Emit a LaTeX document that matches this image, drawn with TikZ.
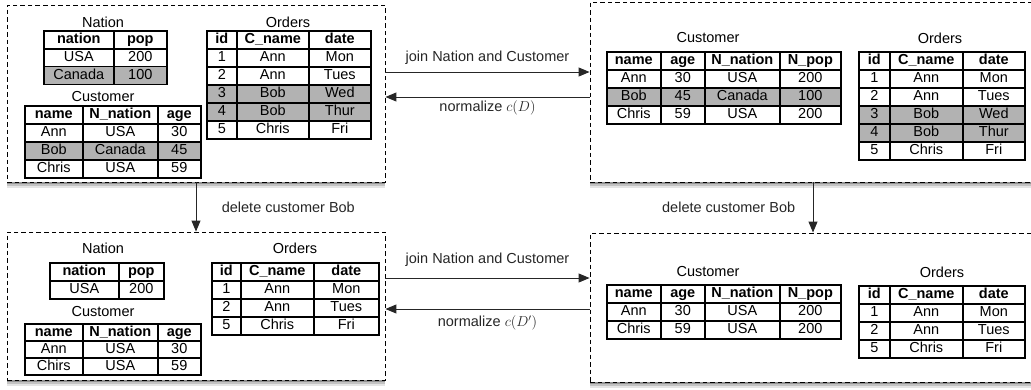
\documentclass[tikz,border=0pt]{standalone}
\usepackage{fontspec}
\setmainfont{Liberation Sans}
\usetikzlibrary{matrix,arrows.meta,positioning}

\definecolor{shade}{gray}{0.70}
\newcommand{\tsize}{\fontsize{14.5}{16}\selectfont}

\tikzset{
  panel/.style={draw, dash pattern=on 4.5pt off 3pt, line width=0.9pt, fill=white, inner sep=0pt,
    preaction={fill=black, opacity=0.10, transform canvas={yshift=-6pt}},
    preaction={fill=black, opacity=0.15, transform canvas={yshift=-4pt}},
    preaction={fill=black, opacity=0.25, transform canvas={yshift=-2pt}}},
  tbl/.style={matrix of nodes, anchor=north west, inner sep=0pt, outer sep=0pt,
    column sep=-1.6pt, row sep=-1.6pt,
    nodes={draw, line width=1.6pt, inner sep=0pt, outer sep=0pt, minimum height=18pt,
      text height=10.5pt, text depth=3pt, font=\tsize},
    row 1/.style={nodes={font=\tsize\bfseries}}},
  title/.style={font=\tsize, inner sep=0pt},
  arr/.style={-{Triangle[length=11pt,width=9pt]}, line width=1pt, black!85},
  lbl/.style={font=\tsize}
}

\begin{document}
\begin{tikzpicture}[x=1pt,y=-1pt]
\useasboundingbox (0,0) rectangle (1031,389);

%% the four states
\node[panel, minimum width=378pt, minimum height=177pt] (p1) at (196,93.5) {};
\node[panel, minimum width=446pt, minimum height=180pt] (p2) at (813,92) {};
\node[panel, minimum width=378pt, minimum height=148pt] (p3) at (196,306) {};
\node[panel, minimum width=446pt, minimum height=149pt] (p4) at (813,307.5) {};

%% top left
\node[title] (nat1t) at (103,22) {Nation};
\matrix[tbl, column 1/.style={nodes={minimum width=70pt}}, column 2/.style={nodes={minimum width=53pt}},
  row 3/.style={nodes={fill=shade}}, row 2/.style={nodes={minimum height=17.5pt}}] (nat1) at (43,30) {
nation & pop \\
USA & 200 \\
Canada & 100 \\
};
\node[title] (cus1t) at (103,97) {Customer};
\matrix[tbl, column 1/.style={nodes={minimum width=58pt}}, column 2/.style={nodes={minimum width=75pt}},
  column 3/.style={nodes={minimum width=43pt}}, row 3/.style={nodes={fill=shade}}] (cus1) at (24,105) {
name & N\_nation & age \\
Ann & USA & 30 \\
Bob & Canada & 45 \\
Chris & USA & 59 \\
};
\node[title] (ord1t) at (288,22) {Orders};
\matrix[tbl, column 1/.style={nodes={minimum width=30pt}}, column 2/.style={nodes={minimum width=72pt}},
  column 3/.style={nodes={minimum width=62pt}}, row 4/.style={nodes={fill=shade}},
  row 5/.style={nodes={fill=shade}}] (ord1) at (206,30) {
id & C\_name & date \\
1 & Ann & Mon \\
2 & Ann & Tues \\
3 & Bob & Wed \\
4 & Bob & Thur \\
5 & Chris & Fri \\
};

%% top right
\node[title] (cus2t) at (708,38) {Customer};
\matrix[tbl, column 1/.style={nodes={minimum width=54pt}}, column 2/.style={nodes={minimum width=44pt}},
  column 3/.style={nodes={minimum width=75pt}}, column 4/.style={nodes={minimum width=61pt}},
  row 3/.style={nodes={fill=shade}}] (cus2) at (606,51) {
name & age & N\_nation & N\_pop \\
Ann & 30 & USA & 200 \\
Bob & 45 & Canada & 100 \\
Chris & 59 & USA & 200 \\
};
\node[title] (ord2t) at (940,38) {Orders};
\matrix[tbl, column 1/.style={nodes={minimum width=31pt}}, column 2/.style={nodes={minimum width=73pt}},
  column 3/.style={nodes={minimum width=62pt}}, row 4/.style={nodes={fill=shade}},
  row 5/.style={nodes={fill=shade}}] (ord2) at (858,51) {
id & C\_name & date \\
1 & Ann & Mon \\
2 & Ann & Tues \\
3 & Bob & Wed \\
4 & Bob & Thur \\
5 & Chris & Fri \\
};

%% bottom left
\node[title] (nat3t) at (103,248) {Nation};
\matrix[tbl, column 1/.style={nodes={minimum width=69pt}}, column 2/.style={nodes={minimum width=45pt}}] (nat3) at (49,262) {
nation & pop \\
USA & 200 \\
};
\node[title] (cus3t) at (103,312) {Customer};
\matrix[tbl, column 1/.style={nodes={minimum width=58pt}}, column 2/.style={nodes={minimum width=75pt}},
  column 3/.style={nodes={minimum width=43pt}}, nodes={minimum height=17pt}] (cus3) at (24,323) {
name & N\_nation & age \\
Ann & USA & 30 \\
Chirs & USA & 59 \\
};
\node[title] (ord3t) at (295,248) {Orders};
\matrix[tbl, column 1/.style={nodes={minimum width=29pt}}, column 2/.style={nodes={minimum width=73pt}},
  column 3/.style={nodes={minimum width=65pt}}] (ord3) at (211,262) {
id & C\_name & date \\
1 & Ann & Mon \\
2 & Ann & Tues \\
5 & Chris & Fri \\
};

%% bottom right
\node[title] (cus4t) at (708,272) {Customer};
\matrix[tbl, column 1/.style={nodes={minimum width=54pt}}, column 2/.style={nodes={minimum width=44pt}},
  column 3/.style={nodes={minimum width=75pt}}, column 4/.style={nodes={minimum width=61pt}}] (cus4) at (606,284) {
name & age & N\_nation & N\_pop \\
Ann & 30 & USA & 200 \\
Chris & 59 & USA & 200 \\
};
\node[title] (ord4t) at (942,272) {Orders};
\matrix[tbl, column 1/.style={nodes={minimum width=31pt}}, column 2/.style={nodes={minimum width=73pt}},
  column 3/.style={nodes={minimum width=62pt}}] (ord4) at (858,285) {
id & C\_name & date \\
1 & Ann & Mon \\
2 & Ann & Tues \\
5 & Chris & Fri \\
};

%% transitions
\draw[arr] (p1.east |- 0,72) -- (p2.west |- 0,72) node[lbl, midway, above=4pt] (j1) {join Nation and Customer};
\draw[arr] (p2.west |- 0,97) -- (p1.east |- 0,97) node[lbl, midway, below=0pt] (n1) {normalize $c(D)$};
\draw[arr] (p3.east |- 0,278) -- (p4.west |- 0,278) node[lbl, midway, above=8pt] (j2) {join Nation and Customer};
\draw[arr] (p4.west |- 0,309) -- (p3.east |- 0,309) node[lbl, midway, below=3pt] (n2) {normalize $c(D')$};
\draw[arr] (p1.south) -- (p3.north) node[lbl, midway, right=22pt] (d1) {delete customer Bob};
\draw[arr] (p2.south) -- (p4.north) node[lbl, midway, left=14pt] (d2) {delete customer Bob};
\end{tikzpicture}
\end{document}
